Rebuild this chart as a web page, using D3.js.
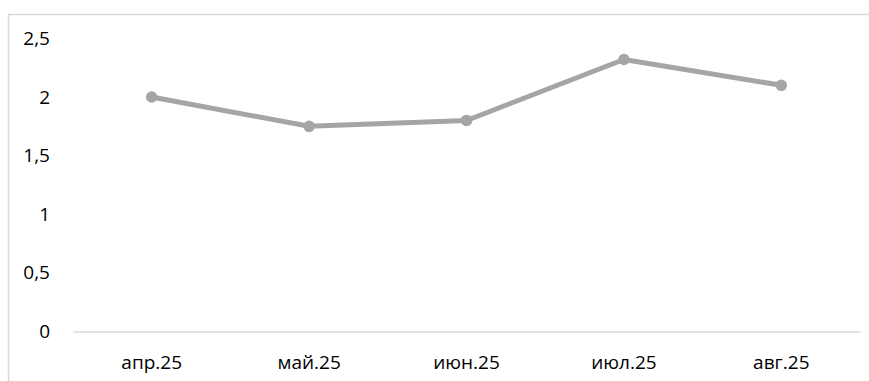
<!DOCTYPE html>
<html>
<head>
<meta charset="utf-8">
<script src="https://cdn.jsdelivr.net/npm/d3@7"></script>
<style>
  html, body { margin: 0; padding: 0; background: #fff; }
  svg { display: block; }
  text { font-family: "Open Sans", Lato, sans-serif; fill: #000; }
</style>
</head>
<body>
<svg id="chart" width="869" height="381"></svg>
<script>
// Monthly values
const months = ["апр.25", "май.25", "июн.25", "июл.25", "авг.25"];
const values = [2.0, 1.75, 1.8, 2.32, 2.1];
const yTicks = [0, 0.5, 1, 1.5, 2, 2.5];

const svg = d3.select("#chart");
const W = 869, H = 381;
const FONT = "'Open Sans', Lato, sans-serif";
const FS = 19;

// Chart frame (extends past the right and bottom edges)
svg.append("rect")
  .attr("x", 8.5).attr("y", 14.5)
  .attr("width", W + 10).attr("height", H + 10)
  .attr("fill", "#fff")
  .attr("stroke", "#d9d9d9").attr("stroke-width", 1.5);

const plot = { left: 73, right: 860, top: 38.4, bottom: 331.5 };

const x = d3.scaleBand().domain(months).range([plot.left, plot.right]);
const y = d3.scaleLinear().domain([0, 2.5]).range([plot.bottom, plot.top]);

const fmt = v => String(v).replace(".", ",");

// Y tick labels
const yAxis = d3.axisLeft(y).tickValues(yTicks).tickFormat(fmt).tickSize(0).tickPadding(0);
const gy = svg.append("g").attr("transform", `translate(50,0)`).call(yAxis);
gy.select(".domain").remove();
gy.selectAll("text").attr("font-size", FS).attr("font-family", FONT).attr("fill", "#000");

// X axis line and labels
const xAxis = d3.axisBottom(x).tickSize(0).tickPadding(24);
const gx = svg.append("g").attr("transform", `translate(0,${plot.bottom})`).call(xAxis);
gx.select(".domain").attr("stroke", "#d9d9d9").attr("stroke-width", 1.5);
gx.selectAll("text").attr("font-size", FS).attr("font-family", FONT).attr("fill", "#000");

// Series line
const pts = months.map((m, i) => [x(m) + x.bandwidth() / 2, y(values[i])]);
svg.append("path")
  .attr("d", d3.line()(pts))
  .attr("fill", "none")
  .attr("stroke", "#a5a5a5")
  .attr("stroke-width", 5)
  .attr("stroke-linejoin", "round");

svg.selectAll("circle.pt")
  .data(pts)
  .join("circle")
  .attr("class", "pt")
  .attr("cx", d => d[0]).attr("cy", d => d[1])
  .attr("r", 5.8)
  .attr("fill", "#a5a5a5");
</script>
</body>
</html>
